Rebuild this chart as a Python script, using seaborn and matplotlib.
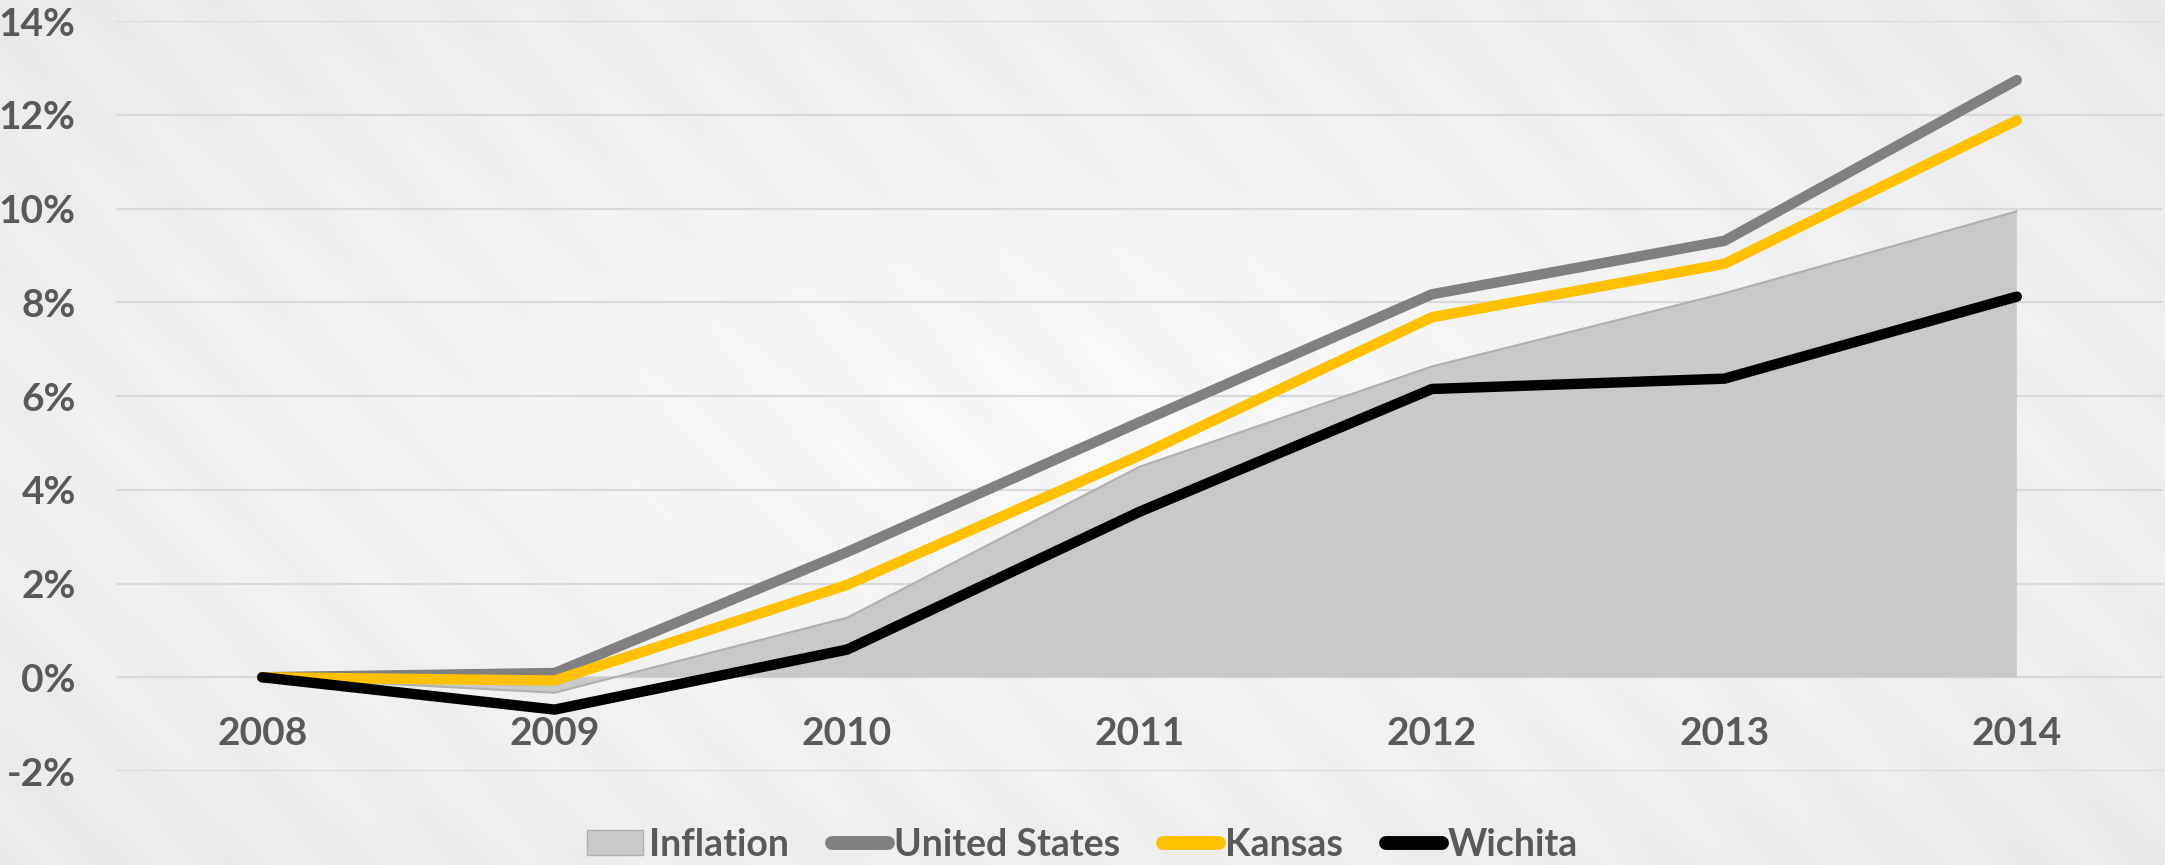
import numpy as np
import pandas as pd
import matplotlib.pyplot as plt
import seaborn as sns
from matplotlib.patches import Patch
from matplotlib.lines import Line2D

# Cumulative change since 2008 (%)
years = [2008, 2009, 2010, 2011, 2012, 2013, 2014]
inflation = [0.0, -0.33, 1.27, 4.49, 6.63, 8.19, 9.94]
united_states = [0.0, 0.09, 2.67, 5.44, 8.17, 9.31, 12.74]
kansas = [0.0, -0.07, 1.97, 4.73, 7.68, 8.82, 11.88]
wichita = [0.0, -0.69, 0.59, 3.53, 6.15, 6.37, 8.12]

y_ticks = [-2, 0, 2, 4, 6, 8, 10, 12, 14]

data = pd.DataFrame({'year': years, 'Inflation': inflation,
                     'United States': united_states, 'Kansas': kansas,
                     'Wichita': wichita})

sns.set_theme(style='white')
plt.rcParams['font.family'] = ['Lato', 'DejaVu Sans']
text_color = '#595959'

fig = plt.figure(figsize=(21.65, 8.65), dpi=100)
fig.patch.set_facecolor('#F1F1F1')

# background: light centre with faint diagonal stripes
bg = fig.add_axes([0, 0, 1, 1], zorder=-10)
h, w = 865, 2165
yy, xx = np.mgrid[0:h, 0:w]
r = np.sqrt(((xx - w / 2) / (w / 2)) ** 2 + ((yy - h / 2) / (h / 2)) ** 2)
base = 0.975 - 0.04 * np.clip(r, 0, 1.4)
stripes = 0.007 * np.sin((xx - yy) * 2 * np.pi / 120)
img = np.clip(base + stripes, 0, 1)
bg.imshow(np.dstack([img, img, img * 1.005]).clip(0, 1), aspect='auto')
bg.axis('off')

ax = fig.add_axes([116 / 2165, 1 - 771 / 865, 2047 / 2165, 750 / 865])
ax.set_facecolor('none')

ax.fill_between(data['year'], 0, data['Inflation'], color='#C9C9C9',
                edgecolor='none', zorder=2)
ax.plot(data['year'], data['Inflation'], color='#B0B0B0', lw=1.5, zorder=2)

colors = {'United States': '#808080', 'Kansas': '#FFC000', 'Wichita': '#000000'}
for i, name in enumerate(['United States', 'Kansas', 'Wichita']):
    sns.lineplot(data=data, x='year', y=name, ax=ax, color=colors[name],
                 linewidth=7.5, solid_capstyle='round', solid_joinstyle='round',
                 zorder=3 + i)

ax.set_xlim(2007.5, 2014.5)
ax.set_ylim(-2, 14)
ax.set_yticks(y_ticks)
ax.set_yticklabels([f'{v}%' for v in y_ticks])
ax.set_xticks(years)
ax.set_xticklabels([str(y) for y in years])
ax.yaxis.grid(True, color='#D9D9D9', linewidth=1.6, zorder=0)
ax.set_axisbelow(True)
for s in ax.spines.values():
    s.set_visible(False)
ax.spines['bottom'].set_position(('data', 0))
ax.tick_params(axis='x', length=0, pad=28, labelsize=28, labelcolor=text_color)
ax.tick_params(axis='y', length=0, pad=29, labelsize=28, labelcolor=text_color)
for lab in ax.get_xticklabels() + ax.get_yticklabels():
    lab.set_fontweight('bold')
ax.set_xlabel('')
ax.set_ylabel('')

handles = [Patch(facecolor='#C9C9C9', edgecolor='#B0B0B0', label='Inflation'),
           Line2D([], [], color='#808080', lw=10, solid_capstyle='round', label='United States'),
           Line2D([], [], color='#FFC000', lw=10, solid_capstyle='round', label='Kansas'),
           Line2D([], [], color='#000000', lw=10, solid_capstyle='round', label='Wichita')]
leg = fig.legend(handles=handles, loc='center', bbox_to_anchor=(0.5, 1 - 845 / 865),
                 ncol=4, frameon=False, fontsize=27, handlelength=1.5,
                 handletextpad=0.15, columnspacing=1.15, handleheight=0.65)
for t in leg.get_texts():
    t.set_color(text_color)
    t.set_fontweight('bold')

fig.savefig('out.png', dpi=100, facecolor=fig.get_facecolor())
